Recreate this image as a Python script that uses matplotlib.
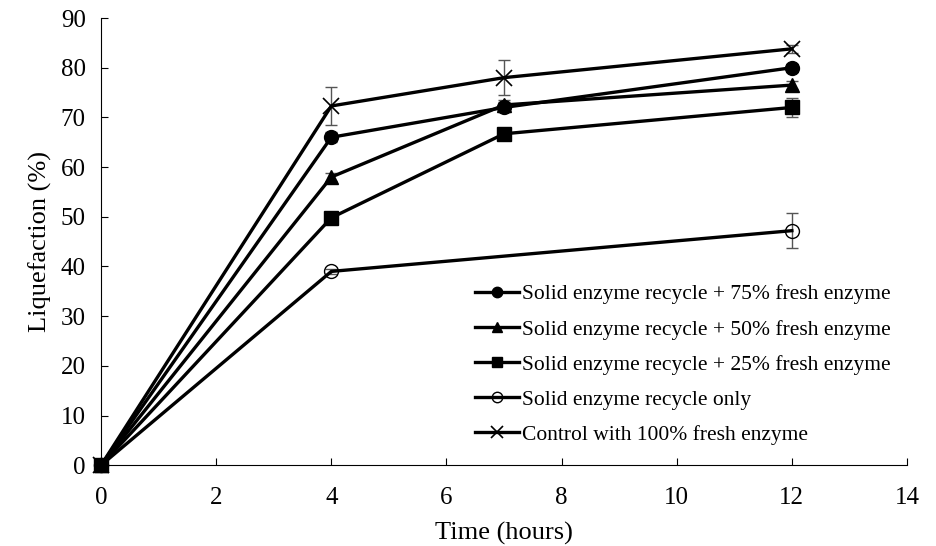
import matplotlib.pyplot as plt
import numpy as np

plt.rcParams['font.family'] = ['Liberation Serif', 'DejaVu Serif']

# data
t_full = [0, 4, 7, 12]
t_only = [0, 4, 12]
fresh75 = [0, 66.0, 72.0, 80.0]
fresh75_err = [0, 1.0, 1.0, 0.8]
fresh50 = [0, 58.0, 72.5, 76.5]
fresh50_err = [0, 0.8, 1.0, 0.8]
fresh25 = [0, 49.8, 66.7, 72.0]
fresh25_err = [0, 0.8, 0.8, 2.0]
recycle_only = [0, 39.0, 47.2]
recycle_only_err = [0, 0.5, 3.5]
control = [0, 72.3, 78.0, 83.8]
control_err = [0, 3.8, 3.5, 0.8]

labels = ['Solid enzyme recycle + 75% fresh enzyme',
          'Solid enzyme recycle + 50% fresh enzyme',
          'Solid enzyme recycle + 25% fresh enzyme',
          'Solid enzyme recycle only',
          'Control with 100% fresh enzyme']

fig = plt.figure(figsize=(9.36, 5.46), dpi=100)
ax = fig.add_axes([0.108, 0.148, 0.861, 0.819])

series = [
    (t_full, fresh75, fresh75_err, 4, dict(marker='o', ms=10, mfc='black')),
    (t_full, fresh50, fresh50_err, 4, dict(marker='^', ms=10, mfc='black')),
    (t_full, fresh25, fresh25_err, 6, dict(marker='s', ms=10, mfc='black')),
    (t_only, recycle_only, recycle_only_err, 3, dict(marker='o', ms=10, mfc='none', mew=1.0)),
    (t_full, control, control_err, 2, dict(marker='x', ms=12, mew=1.2)),
]

for (x, y, e, z, style), lab in zip(series, labels):
    ax.errorbar(x, y, yerr=e, fmt='none', ecolor='#555555', elinewidth=1.0,
                capsize=4, capthick=1.0, zorder=1)
    ax.plot(x, y, color='black', lw=2.4, mec='black', label=lab, zorder=z,
            clip_on=False, **style)

ax.set_xlim(0, 14)
ax.set_ylim(0, 90)
ax.set_xticks(np.arange(0, 15, 2))
ax.set_yticks(np.arange(0, 91, 10))
ax.tick_params(direction='in', length=5, labelsize=18)
ax.tick_params(axis='x', pad=16)
ax.tick_params(axis='y', pad=11)
ax.spines['top'].set_visible(False)
ax.spines['right'].set_visible(False)
ax.set_xlabel('Time (hours)', fontsize=19, labelpad=9)
ax.set_ylabel('Liquefaction (%)', fontsize=19, labelpad=6)

ax.legend(loc='lower left', bbox_to_anchor=(0.44, 0.002), frameon=False,
          fontsize=15.5, handlelength=2.05, labelspacing=0.7, handletextpad=0.15,
          markerscale=0.75)

fig.savefig('out.png', dpi=100)
